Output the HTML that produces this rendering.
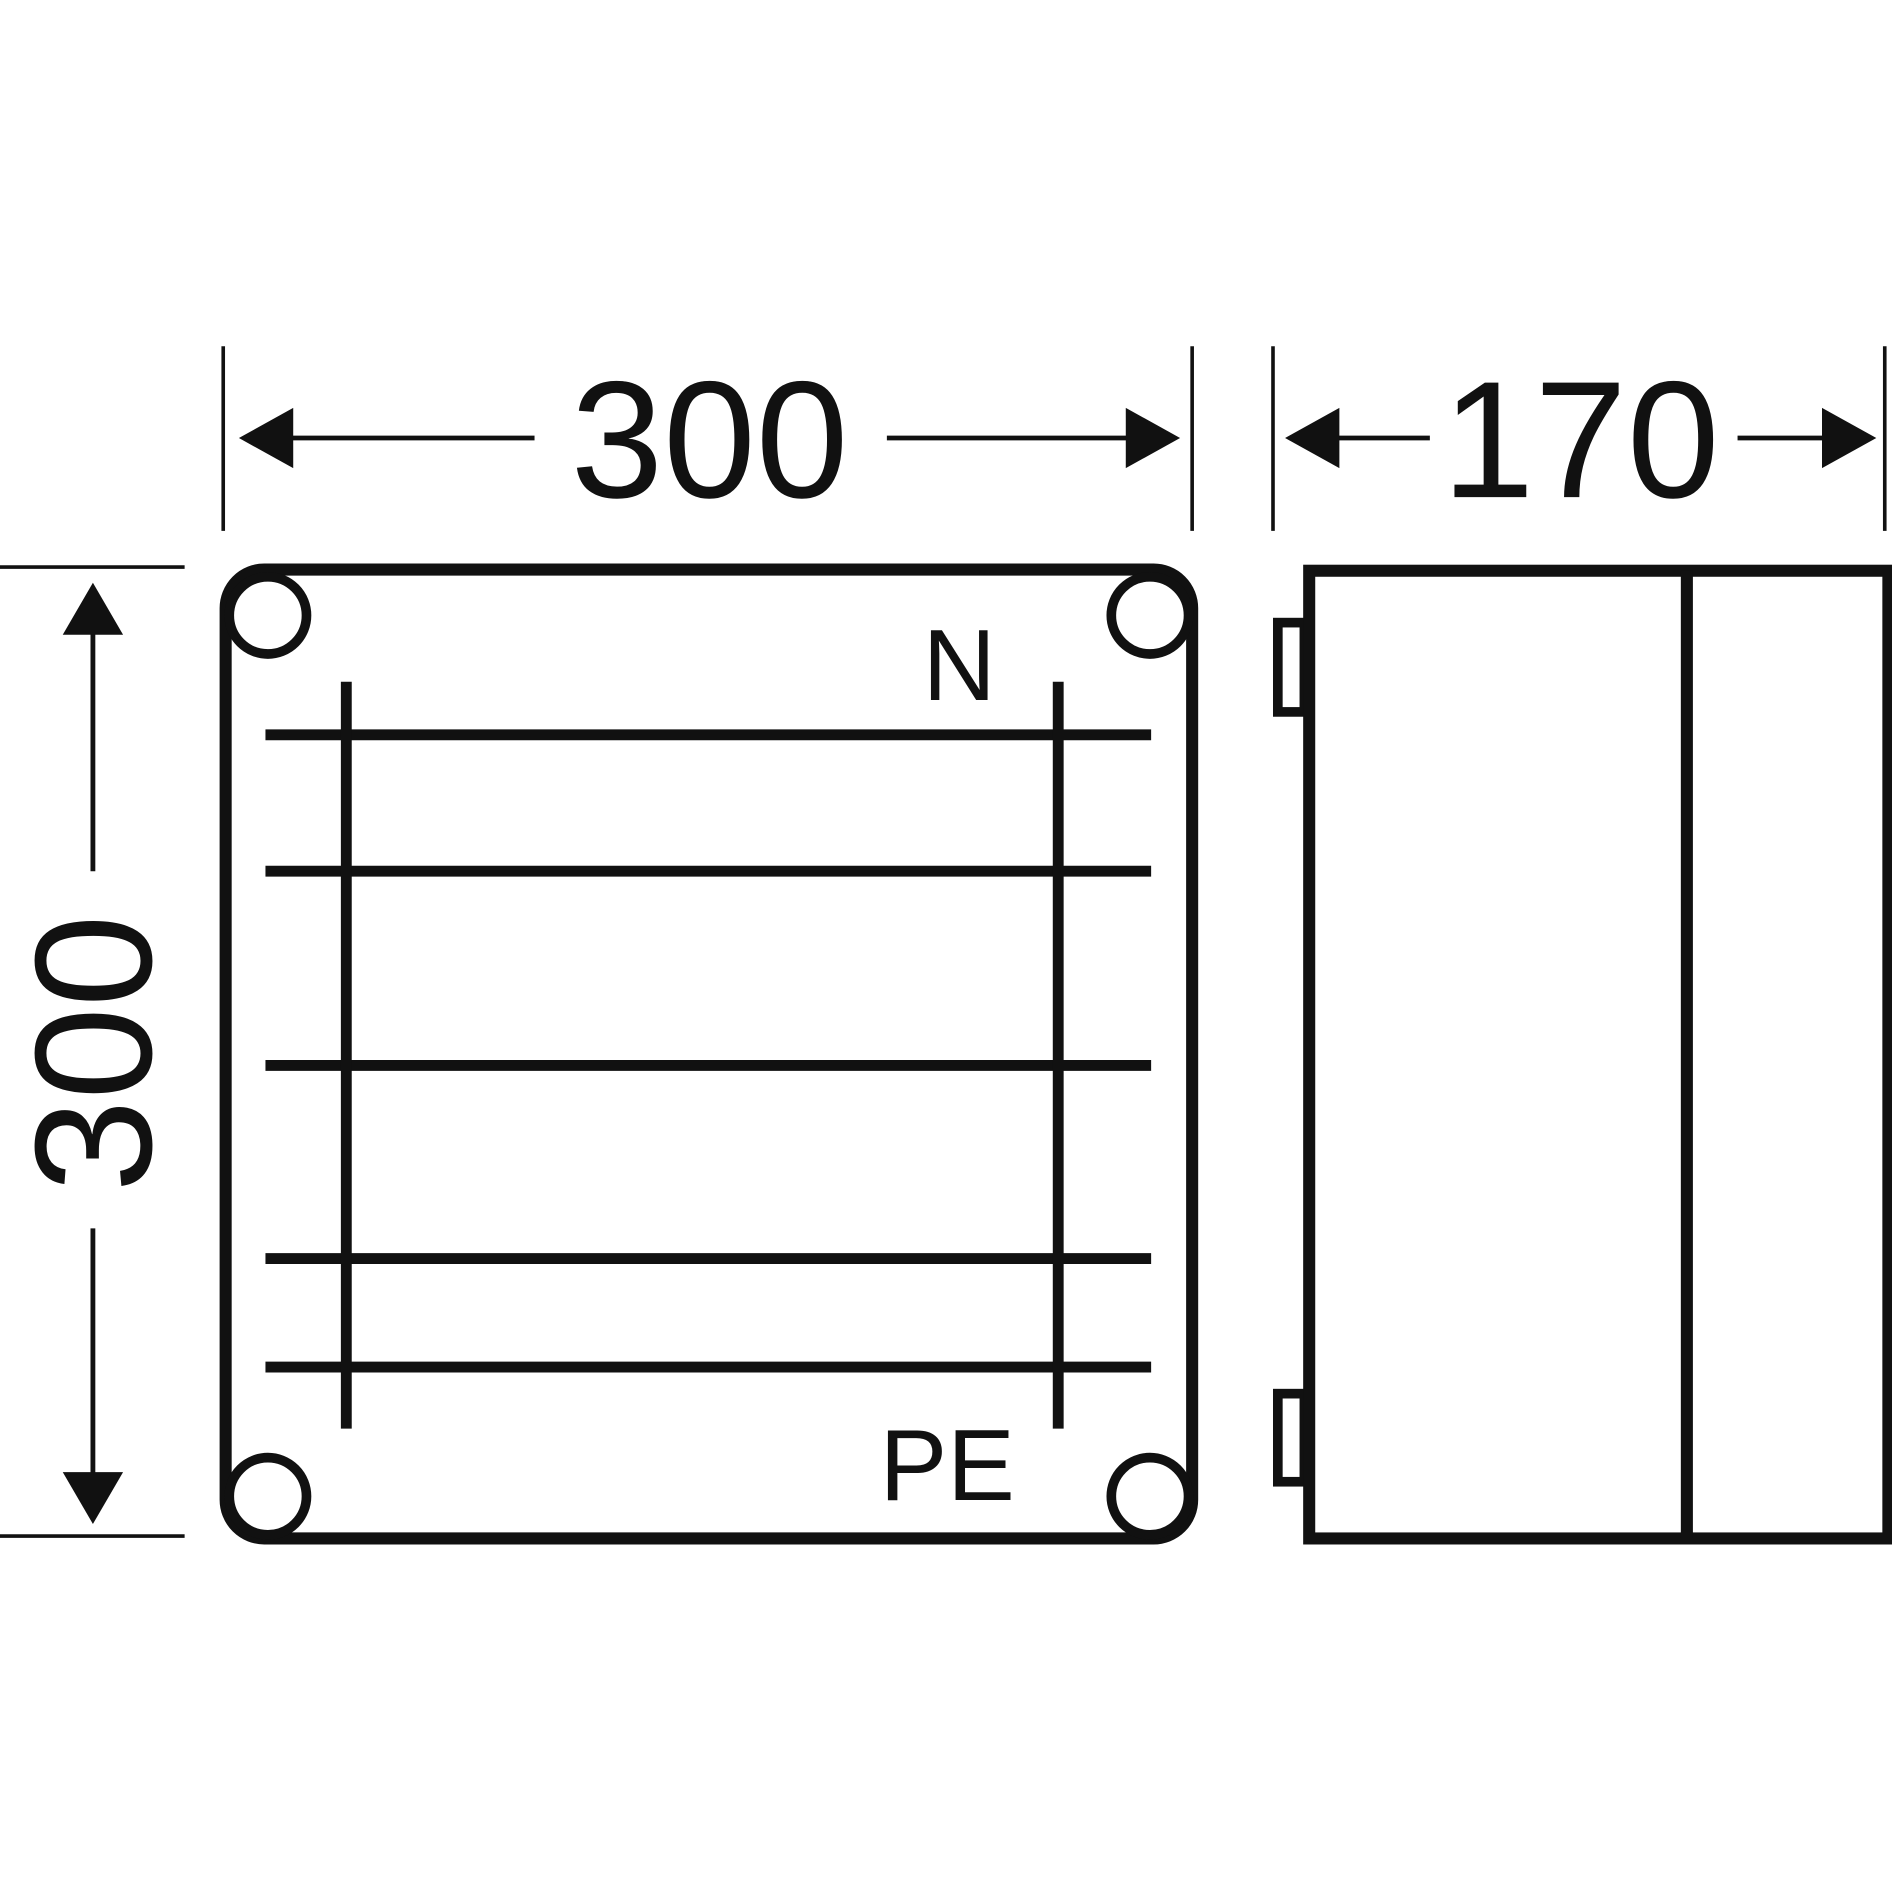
<!DOCTYPE html>
<html><head><style>html,body{margin:0;padding:0;background:#fff}svg{display:block}</style></head>
<body>
<svg width="1892" height="1892" viewBox="0 0 1568 1568" xmlns="http://www.w3.org/2000/svg">
<g stroke="#111" fill="none">
<!-- top dimension 300 -->
<line x1="185" y1="287" x2="185" y2="440" stroke-width="3"/>
<line x1="988" y1="287" x2="988" y2="440" stroke-width="3"/>
<line x1="230" y1="363" x2="443" y2="363" stroke-width="4"/>
<line x1="735" y1="363" x2="945" y2="363" stroke-width="4"/>
<!-- top dimension 170 -->
<line x1="1055" y1="287" x2="1055" y2="440" stroke-width="3"/>
<line x1="1562" y1="287" x2="1562" y2="440" stroke-width="3"/>
<line x1="1095" y1="363" x2="1185" y2="363" stroke-width="4"/>
<line x1="1440" y1="363" x2="1525" y2="363" stroke-width="4"/>
<!-- left dimension -->
<line x1="0" y1="470" x2="153" y2="470" stroke-width="3"/>
<line x1="0" y1="1273" x2="153" y2="1273" stroke-width="3"/>
<line x1="77" y1="515" x2="77" y2="722" stroke-width="4"/>
<line x1="77" y1="1018" x2="77" y2="1232" stroke-width="4"/>
<!-- main box -->
<rect x="187" y="472" width="801" height="803" rx="32" stroke-width="10"/>
<circle cx="222" cy="510" r="32" stroke-width="8" fill="#fff"/>
<circle cx="953" cy="510" r="32" stroke-width="8" fill="#fff"/>
<circle cx="222" cy="1240" r="32" stroke-width="8" fill="#fff"/>
<circle cx="953" cy="1240" r="32" stroke-width="8" fill="#fff"/>
<g stroke-width="9">
<line x1="220" y1="609" x2="954" y2="609"/>
<line x1="220" y1="722" x2="954" y2="722"/>
<line x1="220" y1="883" x2="954" y2="883"/>
<line x1="220" y1="1043" x2="954" y2="1043"/>
<line x1="220" y1="1133" x2="954" y2="1133"/>
<line x1="287" y1="565" x2="287" y2="1184"/>
<line x1="877" y1="565" x2="877" y2="1184"/>
</g>
<!-- side view -->
<rect x="1059" y="516" width="22" height="74" stroke-width="8"/>
<rect x="1059" y="1155" width="22" height="73" stroke-width="8"/>
<rect x="1085" y="473" width="480" height="802" stroke-width="10" fill="#fff"/>
<line x1="1398" y1="473" x2="1398" y2="1275" stroke-width="10"/>
</g>
<g fill="#111">
<polygon points="198,363 243,338 243,388"/>
<polygon points="978,363 933,338 933,388"/>
<polygon points="1065,363 1110,338 1110,388"/>
<polygon points="1555,363 1510,338 1510,388"/>
<polygon points="77,483 52,526 102,526"/>
<polygon points="77,1263 52,1220 102,1220"/>
</g>
<g font-family="Liberation Sans, sans-serif" fill="#111">
<text x="588" y="412" font-size="138" text-anchor="middle">300</text>
<text x="1310" y="412" font-size="138" text-anchor="middle">170</text>
<text transform="translate(125,873) rotate(-90)" font-size="138" text-anchor="middle">300</text>
<text x="795" y="580" font-size="84" text-anchor="middle">N</text>
<text x="785" y="1243" font-size="84" text-anchor="middle">PE</text>
</g>
</svg>
</body></html>
